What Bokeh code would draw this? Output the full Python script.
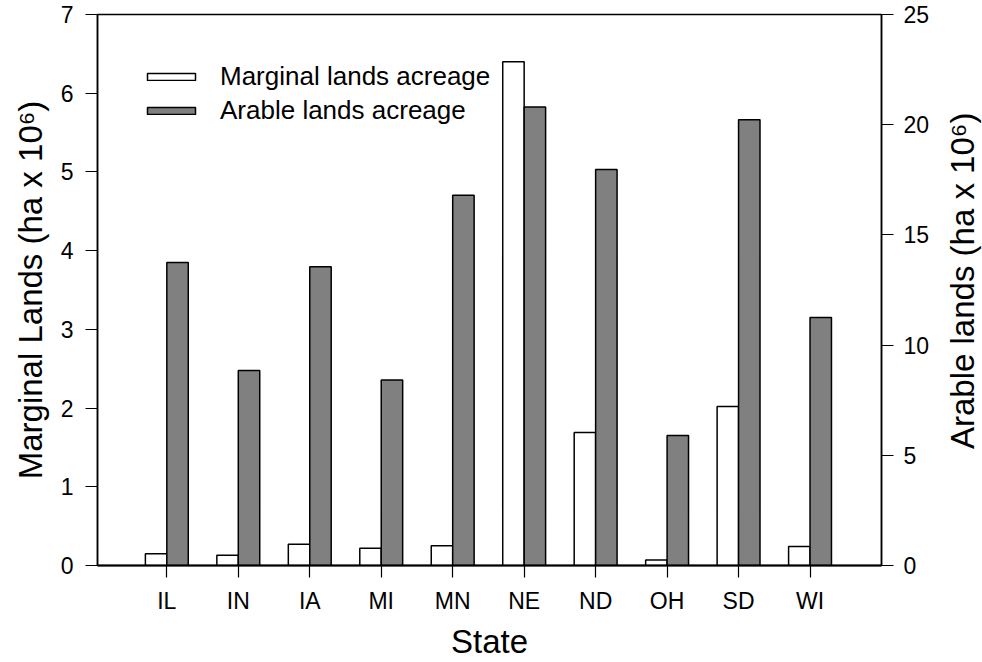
import math
import numpy as np
from bokeh.plotting import figure
from bokeh.layouts import row
from bokeh.models import (Range1d, LinearAxis, FixedTicker, ColumnDataSource,
                          Legend, LegendItem, Label)
from bokeh.embed import file_html
from bokeh.resources import INLINE

# Land area by state (million hectares)
states = ["IL", "IN", "IA", "MI", "MN", "NE", "ND", "OH", "SD", "WI"]
marginal = [0.15, 0.13, 0.27, 0.22, 0.25, 6.40, 1.69, 0.07, 2.02, 0.24]
arable = [13.75, 8.85, 13.55, 8.42, 16.8, 20.8, 17.97, 5.9, 20.22, 11.25]

left_ticks = [0, 1, 2, 3, 4, 5, 6, 7]
right_ticks = [0, 5, 10, 15, 20, 25]

FONT = "Liberation Sans"
TITLE_SIZE = "33px"
H = 662
STRIP_W = 46

idx = np.arange(len(states))
src = ColumnDataSource(dict(
    xm=idx - 0.15, xa=idx + 0.15, marginal=marginal, arable=arable,
))

p = figure(width=982 - STRIP_W, height=H, output_backend="svg", toolbar_location=None,
           x_range=Range1d(-0.97, 10.0), y_range=Range1d(0, 7),
           min_border_left=97, min_border_right=982 - STRIP_W - 881, min_border_top=14,
           min_border_bottom=96)
p.extra_y_ranges = {"arable": Range1d(0, 25)}

p.grid.visible = False
p.background_fill_color = "white"
p.border_fill_color = "white"
p.outline_line_color = "black"
p.outline_line_width = 1.5

r_marg = p.vbar(x="xm", top="marginal", width=0.3, source=src,
                fill_color="white", line_color="black", line_width=1.5)
r_arab = p.vbar(x="xa", top="arable", width=0.3, source=src, y_range_name="arable",
                fill_color="#808080", line_color="black", line_width=1.5)

def style_axis(ax):
    ax.axis_line_color = "black"
    ax.axis_line_width = 1.5
    ax.major_tick_line_color = "black"
    ax.major_tick_line_width = 1.2
    ax.major_tick_out = 12
    ax.major_tick_in = 0
    ax.minor_tick_line_color = None
    ax.major_label_text_font = FONT
    ax.major_label_text_font_size = "23px"
    ax.major_label_text_color = "black"
    ax.axis_label_text_font = FONT
    ax.axis_label_text_font_style = "normal"
    ax.axis_label_text_font_size = TITLE_SIZE
    ax.axis_label_text_color = "black"

# bottom axis with state names
xa = p.xaxis[0]
xa.ticker = FixedTicker(ticks=list(idx))
xa.major_label_overrides = {int(i): s for i, s in zip(idx, states)}
xa.axis_label = "State"
style_axis(xa)
xa.axis_line_width = 2
xa.major_label_standoff = 10
xa.axis_label_standoff = 6

# left axis
ya = p.yaxis[0]
ya.ticker = FixedTicker(ticks=left_ticks)
ya.axis_label = "Marginal Lands (ha x 10\u2076)"
style_axis(ya)
ya.major_label_standoff = 12
ya.axis_label_standoff = 9

# right axis (its title is drawn in the strip next to the plot)
yr = LinearAxis(y_range_name="arable", ticker=FixedTicker(ticks=right_ticks))
style_axis(yr)
yr.major_label_standoff = 10
p.add_layout(yr, "right")

legend = Legend(items=[
    LegendItem(label="Marginal lands acreage", renderers=[r_marg]),
    LegendItem(label="Arable lands acreage", renderers=[r_arab]),
], location=(44, 439))
legend.label_text_font = FONT
legend.label_text_font_size = "26px"
legend.label_text_color = "black"
legend.glyph_width = 60
legend.glyph_height = 9
legend.label_height = 26
legend.spacing = 3
legend.padding = 0
legend.margin = 0
legend.label_standoff = 19
legend.border_line_color = None
legend.background_fill_alpha = 0
p.add_layout(legend, "center")

# narrow strip holding the right-hand title, reading bottom to top
strip = figure(width=STRIP_W, height=H, output_backend="svg", toolbar_location=None,
               x_range=Range1d(0, STRIP_W), y_range=Range1d(0, H), min_border=0)
strip.axis.visible = False
strip.grid.visible = False
strip.outline_line_color = None
strip.background_fill_color = "white"
strip.border_fill_color = "white"
strip.add_layout(Label(x=26, y=342, text="Arable lands (ha x 10\u2076)",
                       angle=math.pi / 2, text_align="center", text_baseline="middle",
                       text_font=FONT, text_font_size=TITLE_SIZE, text_color="black"))

layout = row(p, strip, spacing=0)
open("out.html", "w").write(file_html(layout, INLINE))
